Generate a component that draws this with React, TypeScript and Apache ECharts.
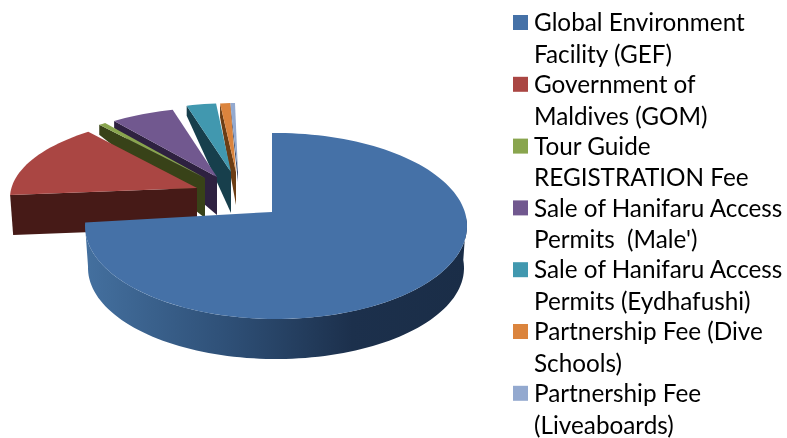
import React, { useEffect, useRef } from "react";
import * as echarts from "echarts";

const categories = [
  "Global Environment\nFacility (GEF)",
  "Government of\nMaldives (GOM)",
  "Tour Guide\nREGISTRATION Fee",
  "Sale of Hanifaru Access\nPermits  (Male')",
  "Sale of Hanifaru Access\nPermits (Eydhafushi)",
  "Partnership Fee (Dive\nSchools)",
  "Partnership Fee\n(Liveaboards)",
];
const shares = [76.2, 14.4, 0.6, 5.4, 2.5, 0.85, 0.4];

const colors = ["#4571a7", "#aa4643", "#89a54e", "#71588f", "#4198af", "#db843d", "#93a9cf"];
const wallColors = ["#1a2d47", "#461a17", "#384218", "#2e2140", "#173f4c", "#6b3d14", "#3d4d6d"];

// Exploded placement of each slice: rim centre, vertical radius and wall depth at rim / at apex
const slicePlacement = [
  { cx: 276, cy: 226, ry: 93, ax: 272, ay: 212, rimDepth: 42, apexDepth: 42 },
  { cx: 201, cy: 198, ry: 82, ax: 197, ay: 188, rimDepth: 40, apexDepth: 40 },
  { cx: 212, cy: 191, ry: 82, ax: 205, ay: 178, rimDepth: 10, apexDepth: 40 },
  { cx: 221, cy: 189, ry: 82, ax: 217, ay: 177, rimDepth: 7, apexDepth: 38 },
  { cx: 235, cy: 185, ry: 82, ax: 231, ay: 172, rimDepth: 10, apexDepth: 41 },
  { cx: 239, cy: 185, ry: 82, ax: 236, ay: 172, rimDepth: 14, apexDepth: 33 },
  { cx: 239, cy: 185, ry: 82, ax: 238, ay: 172, rimDepth: 6, apexDepth: 10 },
];
const RX = 191;
const START_ANGLE = -1.2;
const FONT = "Lato, 'Open Sans', sans-serif";

const total = shares.reduce((a, b) => a + b, 0);
const startAngles: number[] = [];
shares.reduce((acc, v, i) => {
  startAngles[i] = acc;
  return acc + (v / total) * 360;
}, START_ANGLE);

function renderSlice(params: any, api: any) {
  const i = params.dataIndex;
  const p = slicePlacement[i];
  const a0 = startAngles[i];
  const a1 = a0 + (api.value(0) / total) * 360;
  const rim = (deg: number, drop = 0, rx = RX, ry = p.ry): number[] => {
    const r = (deg * Math.PI) / 180;
    return [p.cx + rx * Math.sin(r), p.cy - ry * Math.cos(r) + drop];
  };
  const steps = Math.max(2, Math.ceil((a1 - a0) / 2));
  const rimPts: number[][] = [];
  for (let s = 0; s <= steps; s++) rimPts.push(rim(a0 + ((a1 - a0) * s) / steps));
  const z2 = i === 0 ? 100 : 50 - i;
  const children: any[] = [];
  if (i === 0) {
    const outer: number[][] = [];
    const inner: number[][] = [];
    for (let d = 85; d <= a1 + 0.01; d += 2) {
      outer.push(rim(d));
      inner.unshift(rim(d, p.rimDepth, RX - 3, p.ry - 2));
    }
    children.push({
      type: "polygon",
      z2,
      shape: { points: outer.concat(inner) },
      style: {
        fill: new echarts.graphic.LinearGradient(1, 0, 0, 0, [
          { offset: 0, color: "#1a2d47" },
          { offset: 0.3, color: "#1c304c" },
          { offset: 0.62, color: "#2e4f76" },
          { offset: 1, color: "#44709f" },
        ]),
      },
    });
  } else {
    const s = rim(a0);
    children.push({
      type: "polygon",
      z2,
      shape: {
        points: [
          s,
          [p.ax, p.ay],
          [p.ax, p.ay + p.apexDepth],
          [s[0] + (i === 1 ? 3 : 0), s[1] + p.rimDepth],
        ],
      },
      style: { fill: wallColors[i] },
    });
  }
  children.push({
    type: "polygon",
    z2: z2 + 0.5,
    shape: { points: [[p.ax, p.ay], ...rimPts] },
    style: { fill: colors[i] },
  });
  return { type: "group", children };
}

const LEGEND_TOP = 15;
const LEGEND_STEP = 61.8;
const legendGraphics = categories.flatMap((name, i) => [
  {
    type: "rect",
    left: 513,
    top: LEGEND_TOP + i * LEGEND_STEP,
    shape: { width: 15, height: 15 },
    style: { fill: colors[i] },
  },
  {
    type: "text",
    left: 534,
    top: LEGEND_TOP - 9 + i * LEGEND_STEP,
    style: {
      text: name,
      fill: "#000000",
      font: `24.3px ${FONT}`,
      lineHeight: 31.5,
    },
  },
]);

export default function App() {
  const ref = useRef<HTMLDivElement>(null);
  useEffect(() => {
    const chart = echarts.init(ref.current!, undefined, { renderer: "svg" });
    chart.setOption({
      animation: false,
      backgroundColor: "#ffffff",
      graphic: legendGraphics,
      series: [
        {
          type: "custom",
          coordinateSystem: "none",
          silent: true,
          clip: false,
          renderItem: renderSlice,
          data: shares.map((v, i) => ({ value: [v], name: categories[i] })),
        },
      ],
    });
    return () => chart.dispose();
  }, []);
  return (
    <div
      ref={ref}
      style={{ position: "absolute", left: 0, top: 0, width: 787, height: 438, filter: "blur(0.4px)" }}
    />
  );
}
